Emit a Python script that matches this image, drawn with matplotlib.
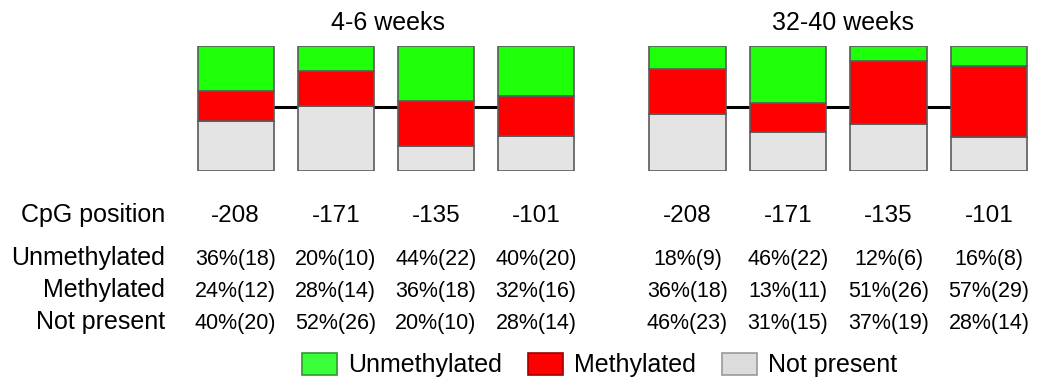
import matplotlib
matplotlib.use("Agg")
import matplotlib.pyplot as plt
from matplotlib.patches import Patch
from matplotlib.transforms import blended_transform_factory
import numpy as np

plt.rcParams["font.family"] = ["Liberation Sans", "DejaVu Sans"]

# CpG sites and age groups
positions = ["-208", "-171", "-135", "-101"]
groups = ["4-6 weeks", "32-40 weeks"]

# clone counts per CpG site (one list per age group)
unmeth_counts = [[18, 10, 22, 20], [9, 22, 6, 8]]
meth_counts = [[12, 14, 18, 16], [18, 11, 26, 29]]
absent_counts = [[20, 26, 10, 14], [23, 15, 19, 14]]

# percentages as reported in the table
unmeth_pct = [[36, 20, 44, 40], [18, 46, 12, 16]]
meth_pct = [[24, 28, 36, 32], [36, 13, 51, 57]]
absent_pct = [[40, 52, 20, 28], [46, 31, 37, 28]]

row_names = ["Unmethylated", "Methylated", "Not present"]

GREEN = "#1eff0a"
RED = "#ff0000"
GREY = "#e4e4e4"
EDGE = "#5a5a5a"

W, H = 1039, 379
fig = plt.figure(figsize=(W / 100, H / 100), dpi=100)


def fx(px):
    return px / W


def fy(py):
    return 1 - py / H


# pixel extents of the two bar panels
panel_x = [(185.5, 586.2), (637.3, 1039.2)]
bar_top, bar_bot = 46, 171
title_x = [388, 843]

# baselines of the text rows
header_y = 222
row_y = [265, 297, 329]

for g, (x0, x1) in enumerate(panel_x):
    ax = fig.add_axes([fx(x0), fy(bar_bot), fx(x1) - fx(x0), (bar_bot - bar_top) / H])
    ax.set_xlim(-0.5, 3.5)
    ax.set_ylim(0, 1)
    ax.axis("off")

    x = np.arange(len(positions))
    u = np.array(unmeth_counts[g], float)
    m = np.array(meth_counts[g], float)
    a = np.array(absent_counts[g], float)
    tot = u + m + a

    # backbone line joining the CpG sites
    ax.plot([x[0], x[-1]], [0.51, 0.51], color="black", lw=2.2, zorder=1)

    kw = dict(width=0.76, edgecolor=EDGE, linewidth=1.2, zorder=2)
    ax.bar(x, a / tot, color=GREY, **kw)
    ax.bar(x, m / tot, bottom=a / tot, color=RED, **kw)
    ax.bar(x, u / tot, bottom=(a + m) / tot, color=GREEN, **kw)

    fig.text(fx(title_x[g]), fy(30), groups[g], ha="center", va="baseline",
             fontsize=18)

    trans = blended_transform_factory(ax.transData, fig.transFigure)
    for i, pos in enumerate(positions):
        ax.text(i, fy(header_y), pos, transform=trans, ha="center",
                va="baseline", fontsize=17.5)
        cols = [(unmeth_pct, unmeth_counts), (meth_pct, meth_counts),
                (absent_pct, absent_counts)]
        for r, (pct, cnt) in enumerate(cols):
            ax.text(i, fy(row_y[r]), f"{pct[g][i]}%({cnt[g][i]})",
                    transform=trans, ha="center", va="baseline", fontsize=15.5)

# row headers
fig.text(fx(165), fy(header_y), "CpG position", ha="right", va="baseline",
         fontsize=18)
for r, name in enumerate(row_names):
    fig.text(fx(165), fy(row_y[r]), name, ha="right", va="baseline",
             fontsize=18)

# legend
handles = [
    Patch(facecolor="#3cff3c", edgecolor="#2f9a2f", linewidth=1.2),
    Patch(facecolor=RED, edgecolor="#a00000", linewidth=1.2),
    Patch(facecolor="#dcdcdc", edgecolor="#9a9a9a", linewidth=1.2),
]
fig.legend(handles, row_names, loc="center left",
           bbox_to_anchor=(fx(302), fy(365)), ncol=3, frameon=False,
           fontsize=18, handlelength=1.4, handleheight=0.96,
           handletextpad=0.44, columnspacing=1.04, borderpad=0,
           borderaxespad=0)

fig.savefig("out.png", dpi=100, facecolor="white")
